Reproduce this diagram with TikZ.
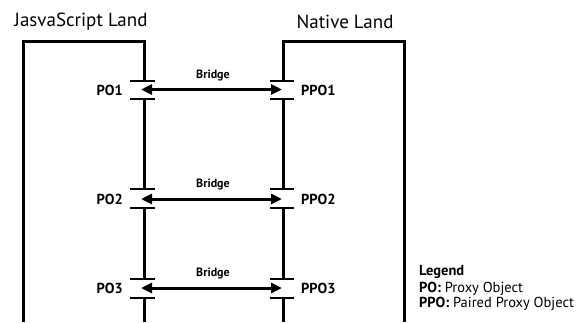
\documentclass[tikz,border=0pt]{standalone}
\usepackage{fontspec}
\setmainfont{PT Sans}
\usetikzlibrary{arrows.meta}
\begin{document}
\begin{tikzpicture}[x=1pt,y=-1pt,
  wall/.style={line width=3pt},
  gate/.style={line width=2pt},
  bridgearrow/.style={line width=3pt,{Triangle[length=11pt,width=10pt]}-{Triangle[length=11pt,width=10pt]}},
  title/.style={font=\fontsize{19}{21}\selectfont, inner sep=0pt},
  objlbl/.style={font=\fontsize{14.5}{16}\selectfont\bfseries, inner sep=0pt},
  bridgelbl/.style={font=\fontsize{12}{14}\selectfont\bfseries, inner sep=0pt},
  legendtxt/.style={font=\fontsize{14.5}{16}\selectfont, inner sep=0pt, anchor=base west}]
\useasboundingbox (0,0) rectangle (578,322);
% titles
\node[title] (jsland) at (81,22) {JasvaScript Land};
\node[title] (nativeland) at (345,22) {Native Land};
% left box
\draw[wall] (23.5,322) -- (23.5,41.5) -- (144,41.5) -- (144,81);
\draw[wall] (144,99) -- (144,189);
\draw[wall] (144,208) -- (144,279);
\draw[wall] (144,298) -- (144,322);
% right box
\draw[wall] (283,81) -- (283,41.5) -- (404.5,41.5) -- (404.5,322);
\draw[wall] (283,99) -- (283,189);
\draw[wall] (283,208) -- (283,279);
\draw[wall] (283,298) -- (283,322);
% gates
\foreach \y in {81,99,189,208,279,298}{
  \draw[gate] (130,\y) -- (155,\y);
  \draw[gate] (270,\y) -- (294,\y);
}
% endpoints
\coordinate (a1) at (141,89.5); \coordinate (b1) at (282,89.5);
\coordinate (a2) at (141,199); \coordinate (b2) at (282,199);
\coordinate (a3) at (141,288); \coordinate (b3) at (282,288);
\draw[bridgearrow] (a1) -- (b1);
\draw[bridgearrow] (a2) -- (b2);
\draw[bridgearrow] (a3) -- (b3);
% labels
\node[bridgelbl] (br1) at (213,76) {Bridge};
\node[bridgelbl] (br2) at (213,185) {Bridge};
\node[bridgelbl] (br3) at (213,273) {Bridge};
\node[objlbl,anchor=east] (po1) at (123,90) {PO1};
\node[objlbl,anchor=east] (po2) at (123,199) {PO2};
\node[objlbl,anchor=east] (po3) at (123,288) {PO3};
\node[objlbl,anchor=west] (ppo1) at (301,90) {PPO1};
\node[objlbl,anchor=west] (ppo2) at (301,199) {PPO2};
\node[objlbl,anchor=west] (ppo3) at (301,288) {PPO3};
% legend
\node[legendtxt,font=\fontsize{14.5}{16}\selectfont\bfseries] (leg) at (419,275) {Legend};
\node[legendtxt] (legpo) at (419,292) {\textbf{PO:} Proxy Object};
\node[legendtxt] (legppo) at (419,307) {\textbf{PPO:} Paired Proxy Object};
\end{tikzpicture}
\end{document}
